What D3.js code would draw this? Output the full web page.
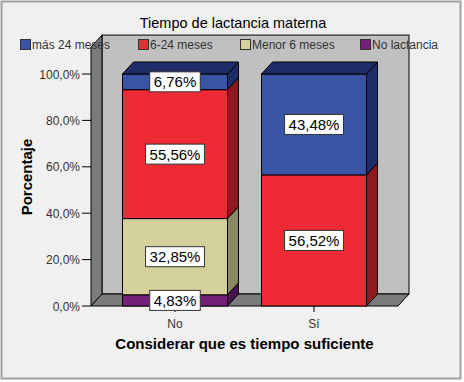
<!DOCTYPE html>
<html><head><meta charset="utf-8">
<script src="https://cdn.jsdelivr.net/npm/d3@7"></script>
<style>body{margin:0;background:#fff}svg{display:block;font-family:"Liberation Sans",Arial,sans-serif}</style>
</head><body><svg id="c" width="464" height="382"></svg>
<script>
const categories = ["No", "Sí"];
const seriesNames = ["No lactancia", "Menor 6 meses", "6-24 meses", "más 24 meses"];
const legendOrder = ["más 24 meses", "6-24 meses", "Menor 6 meses", "No lactancia"];
const noLactancia = [4.83, 0];
const menor6 = [32.85, 0];
const meses6a24 = [55.56, 56.52];
const mas24 = [6.76, 43.48];
const yTicks = [0, 20, 40, 60, 80, 100];
const title = "Tiempo de lactancia materna";
const xTitle = "Considerar que es tiempo suficiente";
const yTitle = "Porcentaje";

const front = {"No lactancia":"#742079","Menor 6 meses":"#d4d09b","6-24 meses":"#ee2a34","más 24 meses":"#3953a5"};
const side = {"No lactancia":"#4b1450","Menor 6 meses":"#8b8961","6-24 meses":"#8c1a1f","más 24 meses":"#1e2d68"};
const top_ = {"No lactancia":"#4b1450","Menor 6 meses":"#8b8961","6-24 meses":"#8c1a1f","más 24 meses":"#1e2d68"};

const svg = d3.select("#c");
svg.append("rect").attr("x",1.5).attr("y",1.5).attr("width",459).attr("height",377)
  .attr("fill","#f0f0f0").attr("stroke","#a0a0a0").attr("stroke-width",2);

const x0 = 91, x1 = 398, dx = 11, dy = 12;
const x = d3.scaleBand().domain(categories).range([x0, x1]).paddingInner(0.2446).paddingOuter(0.2266);
const y = d3.scaleLinear().domain([0, 100]).range([306, 74]);
const wallTop = y(111.6) - dy; // back wall top edge (y in back plane)

const g = svg.append("g");
// back wall
g.append("rect").attr("x", x0+dx).attr("y", wallTop).attr("width", x1-x0).attr("height", y(0)-dy-wallTop)
  .attr("fill","#c0c0c0").attr("stroke","#000").attr("stroke-width",1);
// left wall
g.append("path").attr("d", `M${x0},${y(0)}L${x0},${wallTop+dy}L${x0+dx},${wallTop}L${x0+dx},${y(0)-dy}Z`)
  .attr("fill","#7b7b7b").attr("stroke","#000").attr("stroke-width",1);
// floor
g.append("path").attr("d", `M${x0},${y(0)}L${x0+dx},${y(0)-dy}L${x1+dx},${y(0)-dy}L${x1},${y(0)}Z`)
  .attr("fill","#7b7b7b").attr("stroke","#000").attr("stroke-width",1);

// stack
const rows = categories.map((c,i)=>({cat:c,"No lactancia":noLactancia[i],"Menor 6 meses":menor6[i],"6-24 meses":meses6a24[i],"más 24 meses":mas24[i]}));
const stack = d3.stack().keys(seriesNames)(rows);
const bw = x.bandwidth();
const bars = g.append("g");
const labels = [];
categories.forEach((c,i)=>{
  const bx = x(c);
  const segs = stack.map(s=>({key:s.key, y0:s[i][0], y1:s[i][1]})).filter(s=>s.y1-s.y0>0);
  segs.forEach((s,j)=>{
    const yt = y(s.y1), yb = y(s.y0);
    bars.append("rect").attr("x",bx).attr("y",yt).attr("width",bw).attr("height",yb-yt)
      .attr("fill",front[s.key]).attr("stroke","#000").attr("stroke-width",1);
    bars.append("path").attr("d",`M${bx+bw},${yb}L${bx+bw+dx},${yb-dy}L${bx+bw+dx},${yt-dy}L${bx+bw},${yt}Z`)
      .attr("fill",side[s.key]).attr("stroke","#000").attr("stroke-width",1);
    if (j===segs.length-1) {
      bars.append("path").attr("d",`M${bx},${yt}L${bx+dx},${yt-dy}L${bx+bw+dx},${yt-dy}L${bx+bw},${yt}Z`)
        .attr("fill",top_[s.key]).attr("stroke","#000").attr("stroke-width",1);
    }
    labels.push({x:bx+bw/2, y:(yt+yb)/2, t:d3.format(".2f")(s.y1-s.y0).replace(".",",")+"%"});
  });
});

// y axis
const ya = svg.append("g");
yTicks.forEach(v=>{
  ya.append("line").attr("x1",82).attr("x2",x0).attr("y1",y(v)).attr("y2",y(v)).attr("stroke","#000");
  ya.append("text").attr("x",80).attr("y",y(v)+4.5).attr("text-anchor","end").attr("font-size",12).attr("fill","#333")
    .text(d3.format(".1f")(v).replace(".",",")+"%");
});
// x axis
categories.forEach(c=>{
  const cx = x(c)+bw/2;
  svg.append("line").attr("x1",cx).attr("x2",cx).attr("y1",y(0)).attr("y2",y(0)+6).attr("stroke","#000");
  svg.append("text").attr("x",cx).attr("y",y(0)+22).attr("text-anchor","middle").attr("font-size",12).attr("fill","#333").text(c);
});

// labels
labels.forEach(l=>{
  const t = svg.append("text").attr("x",l.x).attr("y",l.y+5.5).attr("text-anchor","middle").attr("font-size",15).attr("fill","#000").text(l.t);
  const bb = t.node().getBBox();
  svg.insert("rect", () => t.node()).attr("x",bb.x-4).attr("y",l.y-10).attr("width",bb.width+8).attr("height",20)
    .attr("fill","#fff").attr("stroke","#333").attr("stroke-width",1);
});

// titles
svg.append("text").attr("x",233).attr("y",27.5).attr("text-anchor","middle").attr("font-size",14.5).attr("fill","#000").text(title);
svg.append("text").attr("x",(x0+x1)/2).attr("y",349).attr("text-anchor","middle").attr("font-size",15).attr("font-weight","bold").attr("fill","#000").text(xTitle);
svg.append("text").attr("transform",`translate(32,177) rotate(-90)`).attr("text-anchor","middle").attr("font-size",15).attr("font-weight","bold").attr("fill","#000").text(yTitle);

// legend
const legX = [20, 138, 240, 360];
legendOrder.forEach((k,i)=>{
  svg.append("rect").attr("x",legX[i]+0.5).attr("y",39.5).attr("width",10).attr("height",10).attr("fill",front[k]).attr("stroke","#333");
  svg.append("text").attr("x",legX[i]+12).attr("y",49).attr("font-size",12).attr("fill","#333").text(k);
});
</script></body></html>
